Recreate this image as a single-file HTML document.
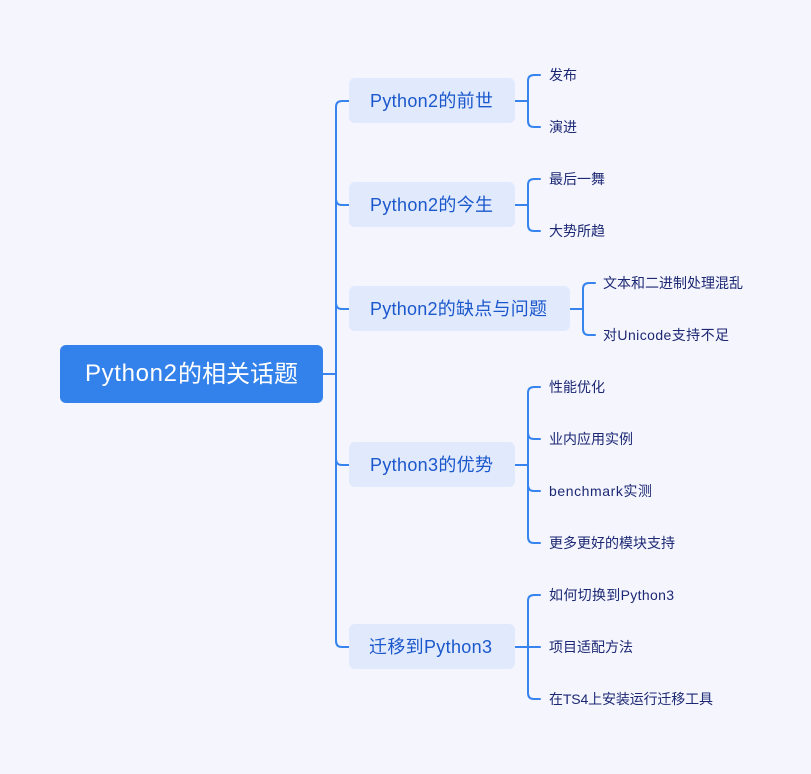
<!DOCTYPE html>
<html><head><meta charset="utf-8"><style>
html,body{margin:0;padding:0;background:#f4f5fd;}
svg{display:block;}
text{font-family:"Liberation Sans","Noto Sans CJK SC",sans-serif;}
</style></head><body>
<svg width="811" height="774" viewBox="0 0 811 774" xmlns="http://www.w3.org/2000/svg">
<rect width="811" height="774" fill="#f4f5fd"/>
<g fill="none" stroke="#3784ee" stroke-width="2" stroke-linecap="round">
<!-- root connector -->
<path d="M323 374 L336 374"/>
<!-- trunk -->
<path d="M349 101 L342 101 Q336 101 336 107 L336 641 Q336 647 342 647 L349 647"/>
<path d="M336 199 Q336 205 342 205 L349 205"/>
<path d="M336 303 Q336 309 342 309 L349 309"/>
<path d="M336 459 Q336 465 342 465 L349 465"/>
<!-- leaf brackets -->
<path d="M515 101 L528 101"/>
<path d="M540 75 L534 75 Q528 75 528 81 L528 121 Q528 127 534 127 L540 127"/>
<path d="M515 205 L528 205"/>
<path d="M540 179 L534 179 Q528 179 528 185 L528 225 Q528 231 534 231 L540 231"/>
<path d="M570 309 L583 309"/>
<path d="M595 283 L589 283 Q583 283 583 289 L583 329 Q583 335 589 335 L595 335"/>
<path d="M515 465 L528 465"/>
<path d="M540 387 L534 387 Q528 387 528 393 L528 537 Q528 543 534 543 L540 543"/>
<path d="M528 433 Q528 439 534 439 L540 439"/>
<path d="M528 485 Q528 491 534 491 L540 491"/>
<path d="M515 647 L540 647"/>
<path d="M540 595 L534 595 Q528 595 528 601 L528 693 Q528 699 534 699 L540 699"/>
</g>
<!-- root -->
<rect x="60" y="345" width="263" height="58" rx="6" fill="#3381ea"/>
<text x="85" y="381" font-size="24" fill="#ffffff" textLength="92" lengthAdjust="spacing">Python2</text>
<text x="178" y="382" font-size="24" fill="#ffffff">的相关话题</text>
<!-- branches -->
<g fill="#e1e9fc">
<rect x="349" y="78" width="166" height="45" rx="6"/>
<rect x="349" y="182" width="166" height="45" rx="6"/>
<rect x="349" y="286" width="221" height="45" rx="6"/>
<rect x="349" y="442" width="166" height="45" rx="6"/>
<rect x="349" y="624" width="166" height="45" rx="6"/>
</g>
<g font-size="18" fill="#1a58cc">
<text x="370" y="107" textLength="123" lengthAdjust="spacing">Python2的前世</text>
<text x="370" y="211" textLength="123" lengthAdjust="spacing">Python2的今生</text>
<text x="370" y="315" textLength="177" lengthAdjust="spacing">Python2的缺点与问题</text>
<text x="370" y="471" textLength="123" lengthAdjust="spacing">Python3的优势</text>
<text x="369" y="653" textLength="123" lengthAdjust="spacing">迁移到Python3</text>
</g>
<!-- leaves -->
<g font-size="14" fill="#1c2874">
<text x="549" y="80">发布</text>
<text x="549" y="132">演进</text>
<text x="549" y="184">最后一舞</text>
<text x="549" y="236">大势所趋</text>
<text x="603" y="288">文本和二进制处理混乱</text>
<text x="603" y="340" textLength="126" lengthAdjust="spacing">对Unicode支持不足</text>
<text x="549" y="392">性能优化</text>
<text x="549" y="444">业内应用实例</text>
<text x="549" y="496" textLength="103" lengthAdjust="spacing">benchmark实测</text>
<text x="549" y="548">更多更好的模块支持</text>
<text x="549" y="600" textLength="125" lengthAdjust="spacing">如何切换到Python3</text>
<text x="549" y="652">项目适配方法</text>
<text x="549" y="704" textLength="164" lengthAdjust="spacing">在TS4上安装运行迁移工具</text>
</g>
</svg>
</body></html>
